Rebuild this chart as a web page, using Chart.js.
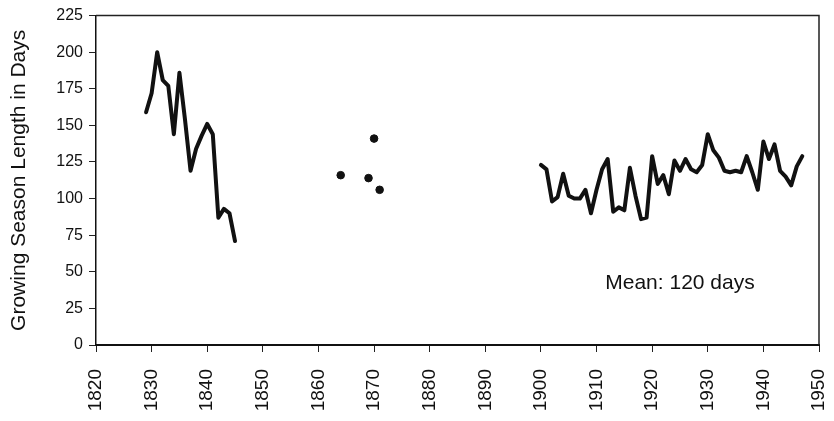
<!DOCTYPE html>
<html>
<head>
<meta charset="utf-8">
<script src="https://cdn.jsdelivr.net/npm/chart.js@4.4.1/dist/chart.umd.min.js"></script>
<style>
html,body{margin:0;padding:0;background:#fff;}
#wrap{width:834px;height:421px;position:relative;}
</style>
</head>
<body>
<div id="wrap"><canvas id="c" width="834" height="421"></canvas></div>
<script>
// Early record 1829-1845
const earlyYears = [1829,1830,1831,1832,1833,1834,1835,1836,1837,1838,1839,1840,1841,1842,1843,1844,1845];
const earlyDays  = [159,172,200,181,177,144,186,154,119,134,143,151,144,87,93,90,71];
// Scattered years
const midYears = [1864,1869,1870,1871];
const midDays  = [116,114,141,106];
// Later record 1900-1947
const lateYears = [1900,1901,1902,1903,1904,1905,1906,1907,1908,1909,
                   1910,1911,1912,1913,1914,1915,1916,1917,1918,1919,
                   1920,1921,1922,1923,1924,1925,1926,1927,1928,1929,
                   1930,1931,1932,1933,1934,1935,1936,1937,1938,1939,
                   1940,1941,1942,1943,1944,1945,1946,1947];
const lateDays  = [123,120,98,101,117,102,100,100,106,90,
                   106,120,127,91,94,92,121,102,86,87,
                   129,110,116,103,126,119,127,120,118,123,
                   144,133,128,119,118,119,118,129,118,106,
                   139,127,137,119,115,109,122,129];
const xTicks = [1820,1830,1840,1850,1860,1870,1880,1890,1900,1910,1920,1930,1940,1950];
const yTicks = [0,25,50,75,100,125,150,175,200,225];
const yTitle = 'Growing Season Length in Days';
const note = 'Mean: 120 days';
const notePos = {x: 1925, y: 42};

const pts = (xs, ys) => xs.map((x, i) => ({x: x, y: ys[i]}));
const FONT = '"Liberation Sans", Arial, Helvetica, sans-serif';

const framePlugin = {
  id: 'frame',
  afterDraw(chart) {
    const {ctx, chartArea: a, scales} = chart;
    ctx.save();
    ctx.strokeStyle = '#222';
    ctx.lineWidth = 1.5;
    ctx.beginPath();
    ctx.moveTo(a.left, a.top);
    ctx.lineTo(a.right, a.top);
    ctx.lineTo(a.right, a.bottom);
    ctx.stroke();
    ctx.fillStyle = '#111';
    ctx.font = '21px ' + FONT;
    ctx.textAlign = 'center';
    ctx.textBaseline = 'middle';
    ctx.fillText(note, scales.x.getPixelForValue(notePos.x), scales.y.getPixelForValue(notePos.y));
    ctx.restore();
  }
};

new Chart(document.getElementById('c'), {
  type: 'scatter',
  data: {
    datasets: [
      {data: pts(earlyYears, earlyDays), showLine: true, borderColor: '#111', borderWidth: 4, pointRadius: 0, tension: 0, borderJoinStyle: 'round', borderCapStyle: 'round'},
      {data: pts(midYears, midDays), showLine: false, pointRadius: 3.8, pointBackgroundColor: '#111', pointBorderColor: '#111', pointBorderWidth: 1},
      {data: pts(lateYears, lateDays), showLine: true, borderColor: '#111', borderWidth: 4, pointRadius: 0, tension: 0, borderJoinStyle: 'round', borderCapStyle: 'round'}
    ]
  },
  options: {
    responsive: false,
    animation: false,
    devicePixelRatio: 1,
    layout: {padding: {left: 0, right: 15, top: 12, bottom: 0}},
    plugins: {legend: {display: false}, tooltip: {enabled: false}},
    scales: {
      x: {
        type: 'linear', min: 1820, max: 1950,
        afterBuildTicks(s) { s.ticks = xTicks.map(v => ({value: v})); },
        afterFit(s) { s.height = 76; s.paddingLeft = 0; s.paddingRight = 0; },
        grid: {drawOnChartArea: false, drawTicks: true, tickLength: 7, color: '#222', lineWidth: 1},
        border: {display: true, color: '#111', width: 2},
        ticks: {minRotation: 90, maxRotation: 90, padding: 17, color: '#111', font: {family: FONT, size: 19}, callback: v => String(v)}
      },
      y: {
        min: 0, max: 225,
        afterBuildTicks(s) { s.ticks = yTicks.map(v => ({value: v})); },
        afterFit(s) { s.width = 96; },
        grid: {drawOnChartArea: false, drawTicks: true, tickLength: 7, color: '#222', lineWidth: 1},
        border: {display: true, color: '#111', width: 1.5},
        ticks: {padding: 6, color: '#111', font: {family: FONT, size: 16}, callback: v => String(v)},
        title: {display: true, text: yTitle, color: '#111', font: {family: FONT, size: 21}, padding: {top: 7, bottom: 4}}
      }
    }
  },
  plugins: [framePlugin]
});
</script>
</body>
</html>
